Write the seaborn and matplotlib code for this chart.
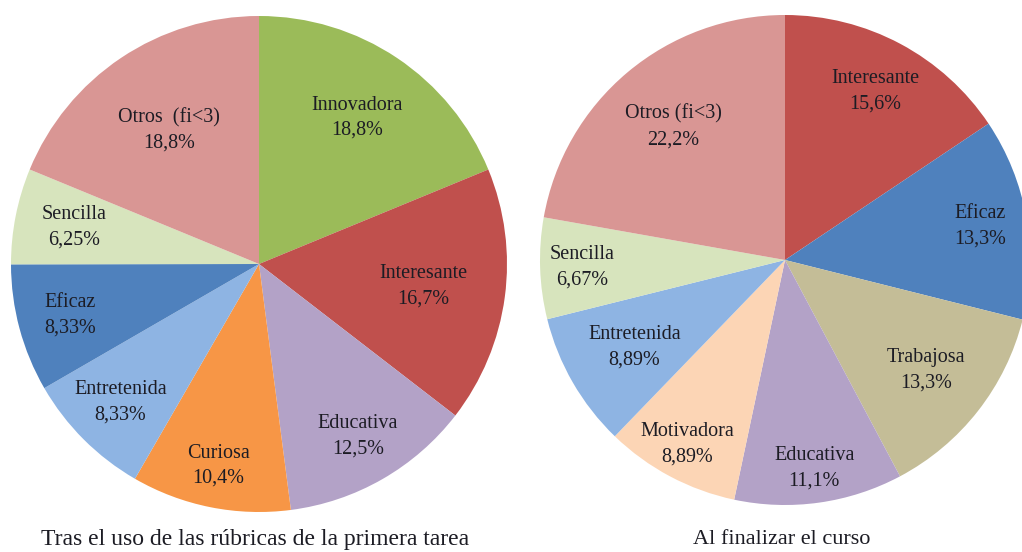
import numpy as np
import matplotlib
matplotlib.use("Agg")
import matplotlib.pyplot as plt
import seaborn as sns

# Left chart: after the rubrics of the first task
left_labels = ["Innovadora", "Interesante", "Educativa", "Curiosa",
               "Entretenida", "Eficaz", "Sencilla", "Otros  (fi<3)"]
left_values = [18.8, 16.7, 12.5, 10.4, 8.33, 8.33, 6.25, 18.8]
left_title = "Tras el uso de las rúbricas de la primera tarea"

# Right chart: end of the course
right_labels = ["Interesante", "Eficaz", "Trabajosa", "Educativa",
                "Motivadora", "Entretenida", "Sencilla", "Otros (fi<3)"]
right_values = [15.6, 13.3, 13.3, 11.1, 8.89, 8.89, 6.67, 22.2]
right_title = "Al finalizar el curso"

# Office-style slice colours
COLORS = {
    "Innovadora": "#9BBB59",
    "Interesante": "#C0504D",
    "Educativa": "#B3A2C7",
    "Curiosa": "#F79646",
    "Entretenida": "#8EB4E3",
    "Eficaz": "#4F81BD",
    "Sencilla": "#D7E4BD",
    "Otros": "#D99694",
    "Trabajosa": "#C4BD97",
    "Motivadora": "#FCD5B5",
}

# radial position of each label (fraction of the radius), as in the original
left_label_r = [0.71, 0.67, 0.80, 0.83, 0.79, 0.79, 0.76, 0.65]
right_label_r = [0.78, 0.81, 0.73, 0.86, 0.85, 0.71, 0.83, 0.71]

sns.set_theme(style="white")
plt.rcParams["font.family"] = ["Liberation Serif", "DejaVu Serif"]

TEXT_COLOR = "#1c1c24"


def fmt_pct(v):
    return "{:.3g}".format(v).replace(".", ",") + "%"


def draw_pie(ax, labels, values, label_r):
    colors = [COLORS[l.split()[0]] for l in labels]
    wedges, _ = ax.pie(values, colors=colors, startangle=90, counterclock=False,
                       radius=1.0, wedgeprops=dict(linewidth=0, antialiased=True))
    for w, lab, v, r in zip(wedges, labels, values, label_r):
        mid = np.deg2rad((w.theta1 + w.theta2) / 2)
        ax.text(r * np.cos(mid), r * np.sin(mid), f"{lab}\n{fmt_pct(v)}",
                ha="center", va="center", fontsize=14.5, color=TEXT_COLOR,
                linespacing=1.45)
    ax.set_xlim(-1, 1)
    ax.set_ylim(-1, 1)
    ax.set_aspect("equal")
    ax.axis("off")


fig = plt.figure(figsize=(10.22, 5.52), dpi=100)

# axes placed so the pies sit where they do in the reference (right one runs off the edge)
ax1 = fig.add_axes([11 / 1022, 40 / 552, 496 / 1022, 496 / 552])
ax2 = fig.add_axes([540 / 1022, 47 / 552, 490 / 1022, 490 / 552])

draw_pie(ax1, left_labels, left_values, left_label_r)
draw_pie(ax2, right_labels, right_values, right_label_r)

fig.text(255 / 1022, 1 - 539 / 552, left_title, ha="center", va="center",
         fontsize=17, color=TEXT_COLOR)
fig.text(782 / 1022, 1 - 539 / 552, right_title, ha="center", va="center",
         fontsize=16, color=TEXT_COLOR)

fig.savefig("out.png", dpi=100, facecolor="white")
